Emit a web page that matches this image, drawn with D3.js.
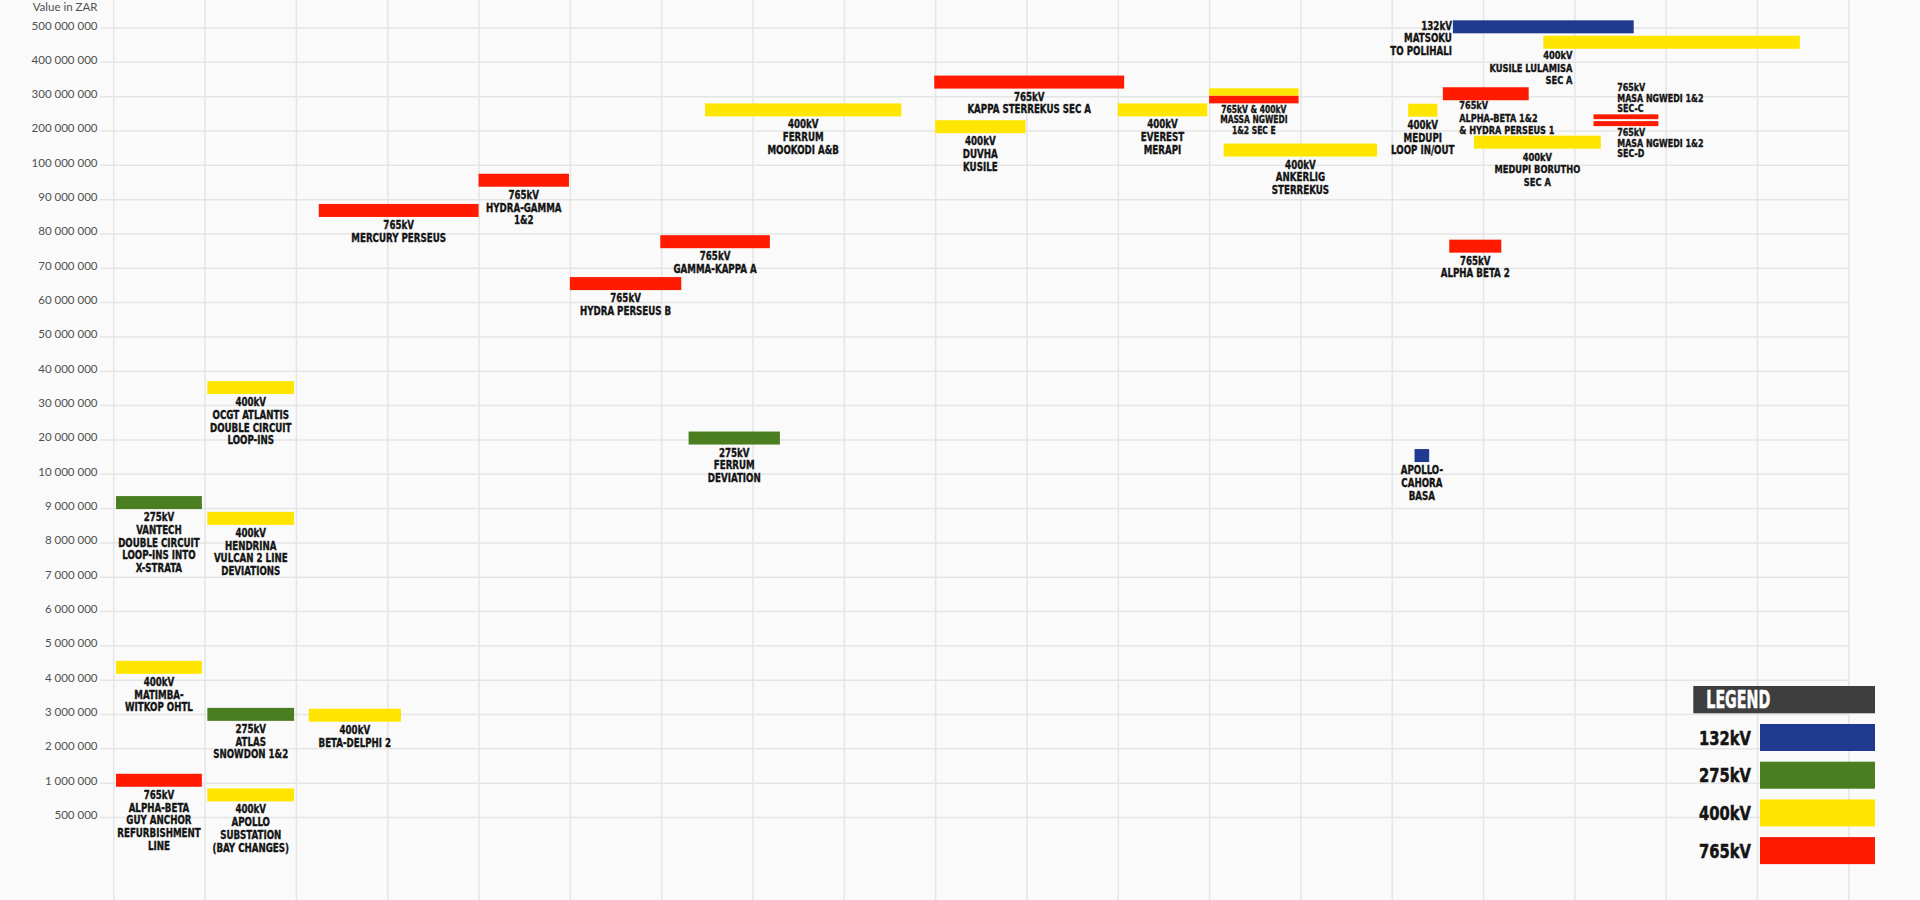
<!DOCTYPE html>
<html>
<head>
<meta charset="utf-8">
<script src="https://cdn.jsdelivr.net/npm/d3@7"></script>
<style>
  html, body { margin: 0; padding: 0; background: #fafafa; }
  svg { display: block; }
  .lbl { font-family: "Liberation Sans Narrow", "Arial Narrow", "DejaVu Sans Condensed", sans-serif; font-weight: 700; fill: #141414; stroke: #141414; stroke-width: 0.35px; }
  .axis text { font-family: "Lato", "Open Sans", sans-serif; fill: #505050; font-size: 11.5px; }
  .axis line { stroke: #e5e5e5; stroke-width: 1.5; }
  .axis path { display: none; }
</style>
</head>
<body>
<svg id="chart" width="1920" height="900"></svg>
<script>
// ---------------- DATA ----------------
const yTickValues = [500000000, 400000000, 300000000, 200000000, 100000000,
  90000000, 80000000, 70000000, 60000000, 50000000, 40000000, 30000000, 20000000,
  10000000, 9000000, 8000000, 7000000, 6000000, 5000000, 4000000, 3000000, 2000000,
  1000000, 500000];
const yAxisTitle = "Value in ZAR";
const xPeriods = d3.range(0, 20); // period boundaries (gridlines), no labels in source

const voltages = ["132kV", "275kV", "400kV", "765kV"];
const voltageColors = ["#1f3a8e", "#4b7e20", "#ffe600", "#ff1a00"];

const projectIds = ["ab-guy", "apollo-sub", "matimba", "atlas", "beta-delphi", "vantech",
  "hendrina", "ocgt", "mercury", "hydra-gamma", "hydra-perseus-b", "gamma-kappa",
  "ferrum-mookodi", "ferrum-dev", "kappa-sterrekus", "duvha", "everest", "sec-e-400",
  "sec-e-765", "ankerlig", "matsoku", "kusile-lulamisa", "ab12-hp1", "medupi-loop",
  "medupi-borutho", "sec-c", "sec-d", "alpha-beta-2", "apollo-cahora"];

const projectLabels = [
  "765kV\nALPHA-BETA\nGUY ANCHOR\nREFURBISHMENT\nLINE",
  "400kV\nAPOLLO\nSUBSTATION\n(BAY CHANGES)",
  "400kV\nMATIMBA-\nWITKOP OHTL",
  "275kV\nATLAS\nSNOWDON 1&2",
  "400kV\nBETA-DELPHI 2",
  "275kV\nVANTECH\nDOUBLE CIRCUIT\nLOOP-INS INTO\nX-STRATA",
  "400kV\nHENDRINA\nVULCAN 2 LINE\nDEVIATIONS",
  "400kV\nOCGT ATLANTIS\nDOUBLE CIRCUIT\nLOOP-INS",
  "765kV\nMERCURY PERSEUS",
  "765kV\nHYDRA-GAMMA\n1&2",
  "765kV\nHYDRA PERSEUS B",
  "765kV\nGAMMA-KAPPA A",
  "400kV\nFERRUM\nMOOKODI A&B",
  "275kV\nFERRUM\nDEVIATION",
  "765kV\nKAPPA STERREKUS SEC A",
  "400kV\nDUVHA\nKUSILE",
  "400kV\nEVEREST\nMERAPI",
  "",
  "765kV & 400kV\nMASSA NGWEDI\n1&2 SEC E",
  "400kV\nANKERLIG\nSTERREKUS",
  "132kV\nMATSOKU\nTO POLIHALI",
  "400kV\nKUSILE LULAMISA\nSEC A",
  "765kV\nALPHA-BETA 1&2\n& HYDRA PERSEUS 1",
  "400kV\nMEDUPI\nLOOP IN/OUT",
  "400kV\nMEDUPI BORUTHO\nSEC A",
  "765kV\nMASA NGWEDI 1&2\nSEC-C",
  "765kV\nMASA NGWEDI 1&2\nSEC-D",
  "765kV\nALPHA BETA 2",
  "APOLLO-\nCAHORA\nBASA"
];

const projectVoltages = ["765kV", "400kV", "400kV", "275kV", "400kV", "275kV",
  "400kV", "400kV", "765kV", "765kV", "765kV", "765kV",
  "400kV", "275kV", "765kV", "400kV", "400kV", "400kV",
  "765kV", "400kV", "132kV", "400kV", "765kV", "400kV",
  "400kV", "765kV", "765kV", "765kV", "132kV"];

const projectValues = [1070000, 822000, 4360000, 2990000, 2965000, 9160000,
  8700000, 35100000, 86700000, 95500000, 65400000, 77600000,
  260000000, 20400000, 341000000, 211000000, 260000000, 312000000,
  290000000, 143000000, 502000000, 457000000, 307000000, 259000000,
  166000000, 240000000, 220000000, 76300000, 15300000];

const projectStart = [0.03, 1.03, 0.03, 1.03, 2.14, 0.03,
  1.03, 1.03, 2.25, 4.00, 5.00, 5.99,
  6.48, 6.30, 8.99, 9.00, 11.00, 12.00,
  12.00, 12.16, 14.67, 15.66, 14.56, 14.18,
  14.90, 16.21, 16.21, 14.63, 14.25];

const projectEnd = [0.97, 1.98, 0.97, 1.98, 3.15, 0.97,
  1.98, 1.98, 4.00, 4.99, 6.22, 7.19,
  8.63, 7.30, 11.07, 9.99, 11.98, 12.98,
  12.98, 13.84, 16.65, 18.47, 15.50, 14.50,
  16.29, 16.92, 16.92, 15.20, 14.41];

// ---------------- LAYOUT / STYLE ----------------
const W = 1920, H = 900;
const plot = { left: 113.3, right: 1848.3, top: 27.5, bottom: 817, tickStart: 100 };
const BAR_H = 13;
const barHeights = { "sec-e-400": 7.5, "sec-e-765": 7.5, "sec-c": 4.8, "sec-d": 5 };
const LBL_SIZE = 11.5, LBL_LEAD = 12.8, LBL_GAP = 12, LBL_SX = 0.84;
const labelLayout = {
  "sec-e-765": { mode: "below", gap: 9.7, size: 10, lead: 10.4 },
  "matsoku": { mode: "leftOf" },
  "kusile-lulamisa": { mode: "below", anchor: "end", at: 15.98, gap: 10, size: 11 },
  "ab12-hp1": { mode: "below", anchor: "start", at: 14.74, gap: 9, size: 10.8, lead: 12.5 },
  "medupi-borutho": { mode: "below", size: 11 },
  "sec-c": { mode: "above", anchor: "start", at: 16.47, size: 10.5, lead: 10.5, gap: 2 },
  "sec-d": { mode: "below", anchor: "start", at: 16.47, size: 10.5, lead: 10.6, gap: 10 }
};

const svg = d3.select("#chart");
svg.append("rect").attr("width", W).attr("height", H).attr("fill", "#fafafa");

// scales
const x = d3.scaleLinear().domain([0, 19]).range([plot.left, plot.right]);
const yPoint = d3.scalePoint().domain(yTickValues.map(String)).range([plot.top, plot.bottom]);
const y = d3.scaleLinear().domain(yTickValues).range(yTickValues.map(v => yPoint(String(v))));
const color = d3.scaleOrdinal().domain(voltages).range(voltageColors);
const fmt = v => d3.format(",")(v).replace(/,/g, " ");

// vertical gridlines
svg.append("g").attr("class", "axis")
  .attr("transform", `translate(0,${H})`)
  .call(d3.axisBottom(x).tickValues(xPeriods).tickSizeInner(-H).tickSizeOuter(0).tickFormat(""));

// y axis with horizontal gridlines
const yAxis = svg.append("g").attr("class", "axis")
  .attr("transform", `translate(${plot.tickStart},0)`)
  .call(d3.axisLeft(y).tickValues(yTickValues).tickFormat(fmt)
    .tickSizeInner(-(plot.right - plot.tickStart)).tickSizeOuter(0).tickPadding(2.5));
yAxis.selectAll("text").attr("dy", "0.13em");

svg.append("text")
  .attr("x", plot.tickStart - 2.5).attr("y", 10.5)
  .attr("text-anchor", "end")
  .style("font-family", "Lato, 'Open Sans', sans-serif").style("font-size", "11.5px").style("fill", "#505050")
  .text(yAxisTitle);

// data rows
const rows = projectIds.map((id, i) => ({
  id, label: projectLabels[i], kv: projectVoltages[i], value: projectValues[i],
  start: projectStart[i], end: projectEnd[i]
}));

svg.append("g").selectAll("rect").data(rows).join("rect")
  .attr("x", d => x(d.start))
  .attr("width", d => x(d.end) - x(d.start))
  .attr("y", d => y(d.value) - (barHeights[d.id] || BAR_H) / 2)
  .attr("height", d => barHeights[d.id] || BAR_H)
  .attr("fill", d => color(d.kv));

// labels
const lg = svg.append("g");
rows.filter(d => d.label).forEach(d => {
  const L = labelLayout[d.id] || { mode: "below" };
  const lines = d.label.split("\n");
  const size = L.size || LBL_SIZE, lead = L.lead || LBL_LEAD;
  const h = barHeights[d.id] || BAR_H;
  const yc = y(d.value);
  let anchor = L.anchor || "middle", tx, ty;
  if (L.mode === "leftOf") {
    anchor = "end"; tx = x(d.start) - 1; ty = yc + 2.7;
  } else if (L.mode === "above") {
    tx = L.at !== undefined ? x(L.at) : (x(d.start) + x(d.end)) / 2;
    ty = yc - h / 2 - (L.gap || 2) - lead * (lines.length - 1);
  } else {
    tx = L.at !== undefined ? x(L.at) : (x(d.start) + x(d.end)) / 2;
    ty = yc + h / 2 + (L.gap !== undefined ? L.gap : LBL_GAP);
  }
  const t = lg.append("text").attr("class", "lbl")
    .attr("transform", `translate(${tx},${ty}) scale(${LBL_SX},1)`)
    .attr("text-anchor", anchor)
    .style("font-size", size + "px");
  lines.forEach((ln, k) => {
    t.append("tspan").attr("x", 0).attr("dy", k === 0 ? 0 : lead).text(ln);
  });
});

// legend
const leg = { x: 1693.3, y: 686, w: 181.7, headH: 27.3, swX: 1760, swW: 115, swH: 27, step: 37.7, first: 724 };
const legG = svg.append("g");
legG.append("rect").attr("x", leg.x).attr("y", leg.y).attr("width", leg.w).attr("height", leg.headH).attr("fill", "#3e3e3e");
legG.append("text").attr("class", "lbl")
  .attr("transform", `translate(${leg.x + 13},${leg.y + 22.3}) scale(0.66,1)`)
  .style("font-size", "24px").style("fill", "#ffffff").style("stroke", "#ffffff").style("stroke-width", "0.5px")
  .text("LEGEND");
const legY = d3.scaleBand().domain(voltages).range([leg.first, leg.first + leg.step * voltages.length]).paddingInner(0);
voltages.forEach(v => {
  legG.append("rect").attr("x", leg.swX).attr("y", legY(v)).attr("width", leg.swW).attr("height", leg.swH).attr("fill", color(v));
  legG.append("text").attr("class", "lbl")
    .attr("transform", `translate(${leg.swX - 9},${legY(v) + leg.swH / 2 + 7.2}) scale(0.82,1)`)
    .attr("text-anchor", "end")
    .style("font-size", "20px").style("stroke-width", "0.5px")
    .text(v);
});
</script>
</body>
</html>
